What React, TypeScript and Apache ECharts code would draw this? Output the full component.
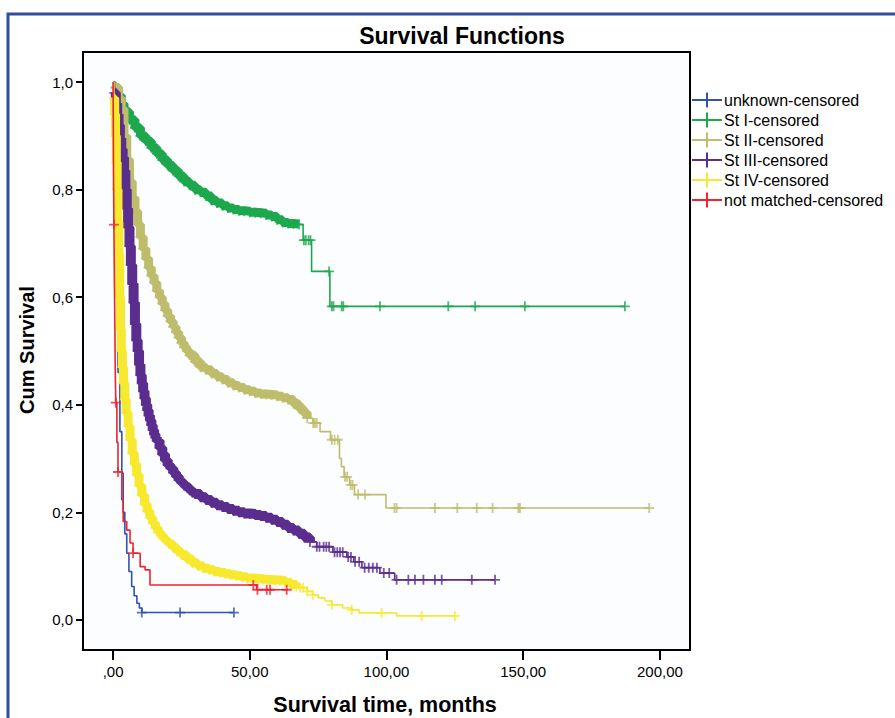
import React, { useEffect, useRef } from "react";
import * as echarts from "echarts";

const FONT = '"Liberation Sans", Arial, Helvetica, sans-serif';

const seriesNames = [
  "unknown-censored",
  "St I-censored",
  "St II-censored",
  "St III-censored",
  "St IV-censored",
  "not matched-censored",
];
const seriesColors = ["#3352a8", "#1ea84e", "#bdbd6c", "#5a2d8f", "#f7e92e", "#ee2330"];

const xTicks = [0, 50, 100, 150, 200];
const yTicks = [0, 0.2, 0.4, 0.6, 0.8, 1.0];

// Kaplan-Meier step points [months, cumulative survival]
const unknownCurve: number[][] = [
  [0, 1.0], [0.5, 0.85], [1, 0.7], [1.5, 0.55], [1.8, 0.46], [2.5, 0.35], [3.2, 0.273],
  [3.7, 0.2], [4.3, 0.16], [5, 0.124], [5.8, 0.09], [6.8, 0.062], [7.7, 0.045],
  [8.7, 0.031], [9.6, 0.022], [10.5, 0.0136], [44.2, 0.0136],
];
const stage1Curve: number[][] = [
  [0, 1.0], [1, 0.99], [2, 0.975], [3, 0.96], [4, 0.945], [6, 0.93], [8, 0.915], [10, 0.9],
  [12, 0.89], [14, 0.878], [16, 0.867], [18, 0.855], [20, 0.845], [22, 0.835], [24, 0.825],
  [26, 0.815], [28, 0.808], [30, 0.8], [32, 0.795], [34, 0.788], [36, 0.78], [38, 0.775],
  [40, 0.77], [42, 0.766], [44, 0.763], [46, 0.761], [48, 0.76], [50, 0.758], [52, 0.757],
  [54, 0.756], [56, 0.753], [58, 0.75], [60, 0.744], [62, 0.739], [64, 0.737], [66, 0.736],
  [68, 0.735], [69.5, 0.706], [72.6, 0.648], [79.3, 0.583], [187.2, 0.583],
];
const stage2Curve: number[][] = [
  [0, 1.0], [1, 0.99], [2, 0.97], [3, 0.95], [4, 0.9], [5, 0.856], [6, 0.815], [7, 0.785],
  [8, 0.76], [9, 0.735], [10, 0.712], [11, 0.69], [12, 0.672], [13, 0.655], [14, 0.64],
  [15, 0.627], [16, 0.612], [17, 0.6], [18, 0.588], [19, 0.576], [20, 0.565], [21, 0.555],
  [22, 0.545], [23, 0.535], [24, 0.525], [25, 0.515], [26, 0.507], [27, 0.5], [28, 0.492],
  [30, 0.48], [32, 0.47], [34, 0.465], [36, 0.458], [38, 0.452], [40, 0.447], [42, 0.441],
  [44, 0.436], [46, 0.432], [48, 0.428], [50, 0.425], [52, 0.422], [54, 0.42], [56, 0.419],
  [58, 0.418], [60, 0.416], [62, 0.413], [64, 0.41], [66, 0.402], [68, 0.393], [69.6, 0.385],
  [71, 0.375], [73, 0.366], [75.7, 0.35], [79.5, 0.335], [82.8, 0.3], [83.5, 0.285],
  [84.5, 0.266], [86.5, 0.251], [88.3, 0.233], [99.8, 0.208], [196.1, 0.208],
];
const stage3Curve: number[][] = [
  [0, 1.0], [0.5, 0.98], [1, 0.96], [1.5, 0.94], [2, 0.92], [2.5, 0.895], [3, 0.875],
  [3.5, 0.86], [4, 0.835], [4.5, 0.8], [5, 0.765], [5.5, 0.73], [6, 0.695], [6.5, 0.66],
  [7, 0.625], [7.5, 0.59], [8, 0.55], [8.5, 0.52], [9, 0.5], [9.5, 0.475], [10, 0.455],
  [10.5, 0.44], [11, 0.425], [11.5, 0.412], [12, 0.4], [12.5, 0.39], [13, 0.38], [13.5, 0.371],
  [14, 0.362], [14.5, 0.353], [15, 0.345], [15.5, 0.339], [16, 0.333], [17, 0.32], [18, 0.308],
  [19, 0.297], [20, 0.288], [21, 0.282], [22, 0.274], [23, 0.267], [24, 0.26], [25, 0.255],
  [26, 0.25], [27, 0.246], [28, 0.241], [29, 0.237], [30, 0.234], [32, 0.228], [34, 0.223],
  [36, 0.218], [38, 0.213], [40, 0.21], [42, 0.206], [44, 0.203], [46, 0.2], [48, 0.198],
  [50, 0.197], [52, 0.195], [54, 0.193], [56, 0.19], [58, 0.186], [60, 0.182], [62, 0.177],
  [64, 0.171], [66, 0.166], [68, 0.16], [70, 0.153], [72, 0.145], [74.5, 0.136],
  [80.4, 0.126], [85.5, 0.117], [88, 0.108], [91, 0.097], [97.6, 0.087], [103, 0.0744],
  [139.7, 0.0744],
];
const stage4Curve: number[][] = [
  [0, 1.0], [0.3, 0.97], [0.6, 0.94], [0.9, 0.9], [1.2, 0.85], [1.5, 0.8], [1.8, 0.74],
  [2.1, 0.68], [2.4, 0.6], [2.7, 0.54], [3, 0.5], [3.4, 0.47], [3.8, 0.44], [4.3, 0.41],
  [4.8, 0.385], [5.5, 0.36], [6.2, 0.335], [7, 0.31], [7.8, 0.29], [8.6, 0.27], [9.5, 0.25],
  [10.5, 0.232], [11.5, 0.215], [12.5, 0.202], [13.5, 0.19], [14.5, 0.18], [15.5, 0.171],
  [16.5, 0.163], [17.5, 0.157], [18.5, 0.151], [19.5, 0.146], [20.5, 0.141], [22, 0.134],
  [23.5, 0.127], [25, 0.121], [27, 0.113], [29, 0.106], [31, 0.1], [33, 0.096], [35, 0.093],
  [37, 0.09], [39, 0.088], [41, 0.086], [43, 0.084], [45, 0.082], [47, 0.08], [49, 0.078],
  [51, 0.077], [53, 0.076], [55, 0.075], [57, 0.074], [59, 0.074], [61, 0.073], [63, 0.07],
  [65, 0.066], [67, 0.062], [68.4, 0.06], [71, 0.053], [73, 0.0465], [75, 0.041],
  [77.5, 0.035], [80, 0.028], [84, 0.022], [87.3, 0.0186], [90, 0.013], [103.7, 0.0074],
  [125, 0.0074],
];
const notMatchedCurve: number[][] = [
  [0, 1.0], [0.1, 0.9], [0.2, 0.8], [0.3, 0.735], [0.5, 0.62], [0.7, 0.52], [0.8, 0.46],
  [1.0, 0.404], [1.4, 0.33], [1.8, 0.275], [3.2, 0.223], [3.7, 0.183], [5, 0.167],
  [6.2, 0.143], [7.3, 0.124], [9.9, 0.099], [11.7, 0.093], [13.5, 0.065], [52.5, 0.056],
  [64, 0.056],
];

// censored observations (months)
const unknownCensored = [10.5, 24.5, 44.2];
const stage1Censored = [69.8, 70.5, 71.5, 72.2, 79.0, 80, 80.6, 83.6, 84.2, 97.6, 122.6, 132.4, 150.6, 187.2];
const stage2Censored = [73.2, 73.8, 74.5, 80, 81, 82.2, 84.8, 85.6, 86.9, 87.6, 89.6, 92.1, 102.9, 103.7, 117.7, 125.9, 133, 138.8, 148.2, 148.8, 196.1];
const stage3Censored = [74.5, 75.5, 77, 78, 79, 81, 82, 83, 84, 86, 87, 88.5, 90, 92, 93.5, 95, 96.5, 99, 101, 103.7, 108, 110.4, 113.5, 117.7, 120.2, 131.2, 139.7];
const stage4Censored = [68.4, 69.5, 71, 73, 80, 87.3, 98.2, 112.8, 125];
const notMatchedCensored = [0.3, 1.0, 1.8, 7.3, 51.3, 52.8, 56.2, 57.4, 63.5];

// time span that is so heavily censored that the marks merge into a band
const denseUntil = [0, 68, 72, 72, 68, 0];
const bandWidth = [0, 9, 9, 10, 9, 0];

const curves = [unknownCurve, stage1Curve, stage2Curve, stage3Curve, stage4Curve, notMatchedCurve];
const censored = [unknownCensored, stage1Censored, stage2Censored, stage3Censored, stage4Censored, notMatchedCensored];

const PLUS = "path://M-0.9,-5H0.9V-0.9H5V0.9H0.9V5H-0.9V0.9H-5V-0.9H-0.9Z";
const LEGEND_ICON = "path://M0,6.5H14V0H16V6.5H30V8.5H16V15H14V8.5H0Z";

function stepValue(curve: number[][], t: number): number {
  let v = curve[0][1];
  for (const p of curve) {
    if (p[0] <= t) v = p[1];
    else break;
  }
  return v;
}

export default function App() {
  const ref = useRef<HTMLDivElement>(null);
  useEffect(() => {
    if (!ref.current) return;
    const chart = echarts.init(ref.current, undefined, { renderer: "svg" });
    const series: any[] = [];
    curves.forEach((curve, i) => {
      series.push({
        name: seriesNames[i],
        type: "line",
        step: "end",
        data: curve,
        showSymbol: false,
        symbol: "none",
        lineStyle: { color: seriesColors[i], width: 1.6 },
        itemStyle: { color: seriesColors[i] },
        z: 2 + i,
      });
      const dense = curve.filter((p) => p[0] <= denseUntil[i]);
      if (dense.length > 1) {
        series.push({
          name: seriesNames[i],
          type: "line",
          step: "end",
          data: dense.slice(1),
          showSymbol: false,
          symbol: "none",
          lineStyle: { color: seriesColors[i], width: bandWidth[i], join: "bevel", cap: "butt" },
          itemStyle: { color: seriesColors[i] },
          z: 2 + i,
        });
      }
      const marks: number[][] = [];
      curve.forEach((p) => {
        if (p[0] > 0 && p[0] <= denseUntil[i]) marks.push(p);
      });
      censored[i].forEach((t) => marks.push([t, stepValue(curve, t)]));
      series.push({
        name: seriesNames[i],
        type: "scatter",
        data: marks,
        symbol: PLUS,
        symbolSize: 10,
        itemStyle: { color: seriesColors[i] },
        z: 2 + i,
      });
    });

    chart.setOption({
      animation: false,
      backgroundColor: "#ffffff",
      title: {
        text: "Survival Functions",
        left: 457,
        textAlign: "center",
        top: 19,
        textStyle: { fontFamily: FONT, fontSize: 23, fontWeight: "bold", color: "#000" },
      },
      legend: {
        orient: "vertical",
        left: 692,
        top: 92,
        padding: 0,
        itemWidth: 30,
        itemHeight: 15,
        itemGap: 4,
        selectedMode: false,
        textStyle: { fontFamily: FONT, fontSize: 16, color: "#000", padding: [0, 0, 0, -3] },
        data: seriesNames.map((n, i) => ({ name: n, icon: LEGEND_ICON, itemStyle: { color: seriesColors[i] } })),
      },
      grid: {
        left: 83,
        top: 52,
        width: 607,
        height: 598,
        show: true,
        borderColor: "#000",
        borderWidth: 2,
        backgroundColor: "#fcfdff",
      },
      xAxis: {
        type: "value",
        min: -11,
        max: 211,
        splitLine: { show: false },
        axisLine: { show: false, onZero: false },
        axisTick: { show: true, length: 10, customValues: xTicks, lineStyle: { color: "#000", width: 2 } },
        axisLabel: {
          customValues: xTicks,
          margin: 14,
          fontFamily: FONT,
          fontSize: 15,
          color: "#000",
          formatter: (v: number) => (v === 0 ? ",00" : v.toFixed(2).replace(".", ",")),
        },
      },
      yAxis: {
        type: "value",
        min: -0.056,
        max: 1.056,
        splitLine: { show: false },
        axisLine: { show: false, onZero: false },
        axisTick: { show: true, length: 7, customValues: yTicks, lineStyle: { color: "#000", width: 2 } },
        axisLabel: {
          customValues: yTicks,
          margin: 10,
          fontFamily: FONT,
          fontSize: 15,
          color: "#000",
          formatter: (v: number) => v.toFixed(1).replace(".", ","),
        },
      },
      graphic: [
        {
          type: "rect",
          shape: { x: 8, y: 14, width: 910, height: 730 },
          style: { fill: "none", stroke: "#2e4f9e", lineWidth: 3 },
          silent: true,
          z: 100,
        },
        {
          type: "text",
          x: 27,
          y: 350,
          rotation: Math.PI / 2,
          style: {
            text: "Cum Survival",
            fontFamily: FONT,
            fontSize: 20,
            fontWeight: "bold",
            fill: "#000",
            align: "center",
            verticalAlign: "middle",
          },
        },
        {
          type: "text",
          x: 385,
          y: 705,
          style: {
            text: "Survival time, months",
            fontFamily: FONT,
            fontSize: 21.5,
            fontWeight: "bold",
            fill: "#000",
            align: "center",
            verticalAlign: "middle",
          },
        },
      ],
      series,
    });
    return () => chart.dispose();
  }, []);
  return (
    <div
      ref={ref}
      style={{ position: "fixed", left: 0, top: 0, width: 895, height: 718, background: "#fff" }}
    />
  );
}
